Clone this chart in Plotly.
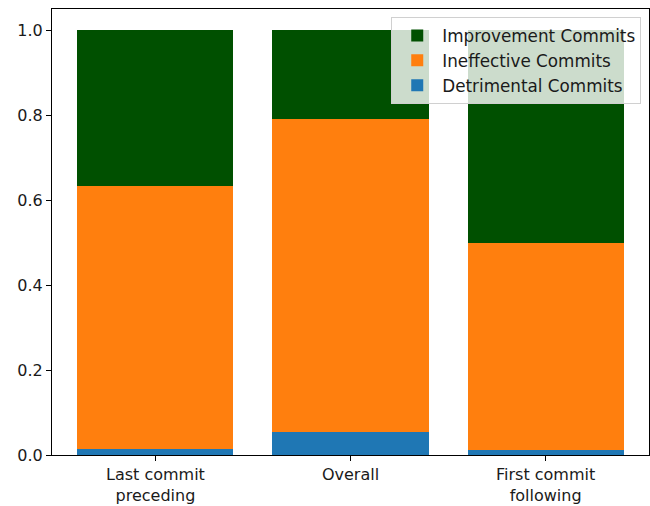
import plotly.graph_objects as go

categories = ["Last commit<br>preceding", "Overall", "First commit<br>following"]
detrimental = [0.014, 0.054, 0.011]
ineffective = [0.619, 0.736, 0.487]
improvement = [0.367, 0.210, 0.502]
yticks = [0.0, 0.2, 0.4, 0.6, 0.8, 1.0]

xpos = list(range(len(categories)))

fig = go.Figure()
fig.add_trace(go.Bar(x=xpos, y=detrimental, name="Detrimental Commits",
                     marker=dict(color="#1f77b4", line=dict(width=0)), width=0.8))
fig.add_trace(go.Bar(x=xpos, y=ineffective, name="Ineffective Commits",
                     marker=dict(color="#ff7f0e", line=dict(width=0)), width=0.8))
fig.add_trace(go.Bar(x=xpos, y=improvement, name="Improvement Commits",
                     marker=dict(color="#005000", line=dict(width=0)), width=0.8))

axis_common = dict(showline=True, linecolor="black", linewidth=1, mirror=True,
                   showgrid=False, zeroline=False, ticks="outside", ticklen=5,
                   tickwidth=1, tickcolor="black",
                   tickfont=dict(family="DejaVu Sans", size=16, color="#1a1a1a"))

fig.update_layout(
    barmode="stack",
    width=650, height=506,
    margin=dict(l=52, r=1, t=9, b=51),
    plot_bgcolor="white", paper_bgcolor="white",
    font=dict(family="DejaVu Sans", size=16, color="#1a1a1a"),
    xaxis=dict(range=[-0.53, 2.53], tickvals=xpos, ticktext=categories, **axis_common),
    yaxis=dict(range=[0, 1.05], tickvals=yticks, ticktext=[f"{v:.1f}" for v in yticks],
               **axis_common),
    legend=dict(x=0.987, y=0.982, xanchor="right", yanchor="top",
                traceorder="reversed", bgcolor="rgba(255,255,255,0.8)",
                bordercolor="#d0d0d0", borderwidth=1, itemwidth=40,
                font=dict(family="DejaVu Sans", size=16.8, color="#1a1a1a")),
    showlegend=True,
)

fig.write_html("out.html")
